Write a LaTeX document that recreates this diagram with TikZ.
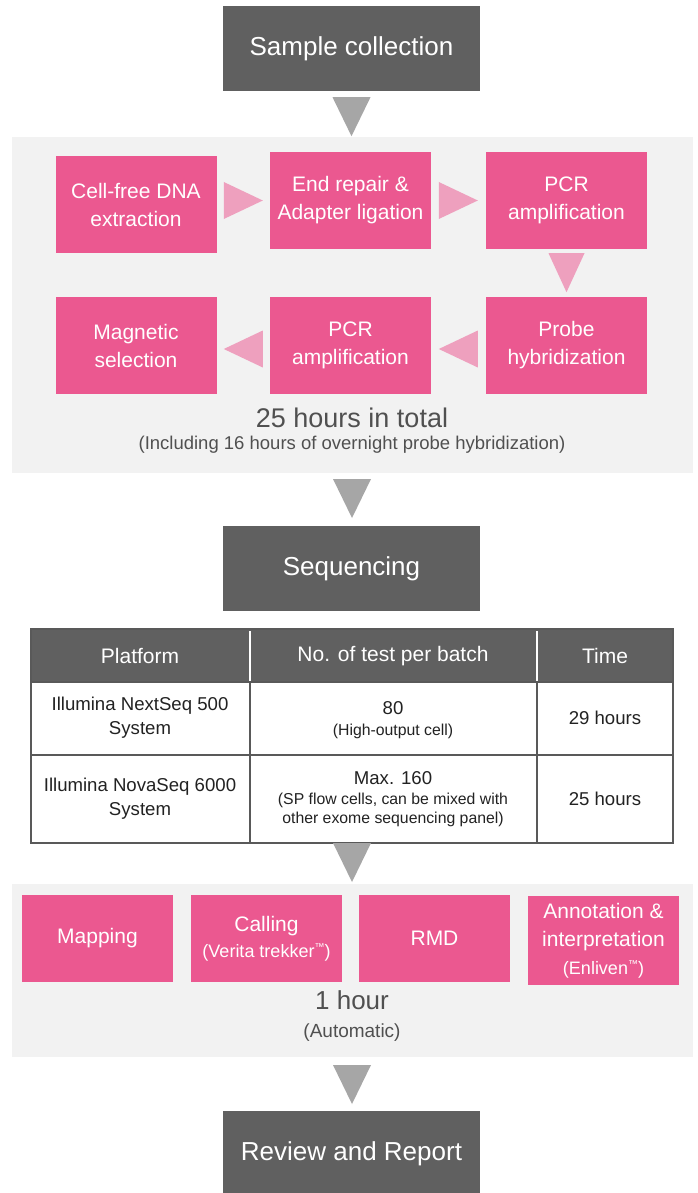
\documentclass[tikz,border=0pt]{standalone}
\usepackage{fontspec}
\setmainfont{Liberation Sans}
\usetikzlibrary{calc}
\definecolor{darkg}{HTML}{606060}
\definecolor{panelg}{HTML}{F2F2F2}
\definecolor{pinkc}{HTML}{EB5890}
\definecolor{lpink}{HTML}{EEA0BE}
\definecolor{arrg}{HTML}{A6A6A6}
\definecolor{txtg}{HTML}{505050}
\definecolor{tabline}{HTML}{595959}
\definecolor{tabtxt}{HTML}{222222}
\newcommand{\fsz}[2]{\fontsize{#1}{#2}\selectfont}
\begin{document}
\begin{tikzpicture}[x=1pt,y=-1pt,
  every node/.style={inner sep=0pt, align=center},
  darkbox/.style={fill=darkg, text=white, minimum width=257pt, minimum height=85pt, font=\fsz{26}{30}},
  pinkbox/.style={fill=pinkc, text=white, minimum width=161pt, minimum height=97pt, font=\fsz{21}{28}},
  smallpink/.style={fill=pinkc, text=white, minimum width=151pt, minimum height=87pt, font=\fsz{21}{28}},
  panel/.style={fill=panelg},
  bigarrow/.style={fill=arrg},
  smallarrow/.style={fill=lpink},
  note/.style={text=txtg},
  thead/.style={text=white, font=\fsz{21}{24}},
  tcell/.style={text=tabtxt, font=\fsz{18.6}{24}},
  tsmall/.style={text=tabtxt, font=\fsz{15.8}{19}}
]
\useasboundingbox (0,0) rectangle (697,1193);
\fill[white] (0,0) rectangle (697,1193);

% panels
\fill[panel] (12,137) rectangle (693,473);
\fill[panel] (12,884) rectangle (693,1057);

% Sample collection
\node[darkbox] (sc) at (351.5,48.5) {Sample collection};
\fill[bigarrow] ($(sc.south)+(-19,6)$) -- ($(sc.south)+(19,6)$) -- ($(sc.south)+(0,45)$) -- cycle;

% row 1
\node[pinkbox] (b1) at (136,204.5) {Cell-free DNA\\extraction};
\node[pinkbox] (b2) at (350.5,200.5) {End repair \&\\Adapter ligation};
\node[pinkbox] (b3) at (566.5,200.5) {PCR\\amplification};
% row 2
\node[pinkbox] (b4) at (566.5,345.5) {Probe\\hybridization};
\node[pinkbox] (b5) at (350.5,345.5) {PCR\\amplification};
\node[pinkbox] (b6) at (136,345.5) {Magnetic\\selection};

% small arrows
\fill[smallarrow] ($(b2.west)+(-46,-18.5)$) -- ($(b2.west)+(-46,18.5)$) -- ($(b2.west)+(-7,0)$) -- cycle;
\fill[smallarrow] ($(b3.west)+(-47,-18.5)$) -- ($(b3.west)+(-47,18.5)$) -- ($(b3.west)+(-8,0)$) -- cycle;
\fill[smallarrow] ($(b3.south)+(-18,4)$) -- ($(b3.south)+(18,4)$) -- ($(b3.south)+(0,43)$) -- cycle;
\fill[smallarrow] ($(b4.west)+(-8,-15)$) -- ($(b4.west)+(-8,22)$) -- ($(b4.west)+(-47,3.5)$) -- cycle;
\fill[smallarrow] ($(b5.west)+(-7,-15)$) -- ($(b5.west)+(-7,22)$) -- ($(b5.west)+(-46,3.5)$) -- cycle;

\node[note, font=\fsz{27}{30}] (tot) at (352,418) {25 hours in total};
\node[note, font=\fsz{18.5}{20}] (totn) at (352,445) {(Including 16 hours of overnight probe hybridization)};

\fill[bigarrow] (333,479) -- (371,479) -- (352,518) -- cycle;

% Sequencing
\node[darkbox] (seq) at (351.5,568.5) {Sequencing};

% table
\fill[darkg] (31,629) rectangle (673,682);
\draw[white, line width=1.5pt] (250,631) -- (250,682) (537,631) -- (537,682);
\draw[tabline, line width=1.5pt] (31,682) -- (673,682) (31,755) -- (673,755)
  (250,682) -- (250,843) (537,682) -- (537,843);
\draw[tabline, line width=1.5pt] (31,629) rectangle (673,843);

\node[thead] (h1) at (140,656) {Platform};
\node[thead] (h2) at (393,656) {No. of test per batch};
\node[thead] (h3) at (605,656) {Time};

\node[tcell] (r1a) at (140,718) {Illumina NextSeq 500\\System};
\node[tcell] (r1b) at (393,708) {80};
\node[tsmall] (r1bn) at (393,731) {(High-output cell)};
\node[tcell] (r1c) at (605,718) {29 hours};

\node[tcell] (r2a) at (140,799) {Illumina NovaSeq 6000\\System};
\node[tcell] (r2b) at (393,778) {Max. 160};
\node[tsmall] (r2bn) at (393,810) {(SP flow cells, can be mixed with\\other exome sequencing panel)};
\node[tcell] (r2c) at (605,799) {25 hours};

\fill[bigarrow] (333,843) -- (371,843) -- (352,882) -- cycle;

% analysis boxes
\node[smallpink] (map) at (97.5,938.5) {Mapping};
\node[smallpink] (call) at (266.5,938.5) {Calling\\[-2pt]{\fsz{18}{22}(Verita trekker\raisebox{0.4em}{\fsz{10}{10}™})}};
\node[smallpink] (rmd) at (434.5,938.5) {RMD};
\node[smallpink, minimum height=89pt] (ann) at (603.5,940.5) {Annotation \&\\interpretation\\{\fsz{18}{22}(Enliven\raisebox{0.4em}{\fsz{10}{10}™})}};

\node[note, font=\fsz{26}{30}] (hr) at (352,1000) {1 hour};
\node[note, font=\fsz{19}{22}] (auto) at (352,1033) {(Automatic)};

\fill[bigarrow] (333,1065) -- (371,1065) -- (352,1104) -- cycle;

\node[darkbox] (rev) at (351.5,1153.5) {Review and Report};
\end{tikzpicture}
\end{document}
